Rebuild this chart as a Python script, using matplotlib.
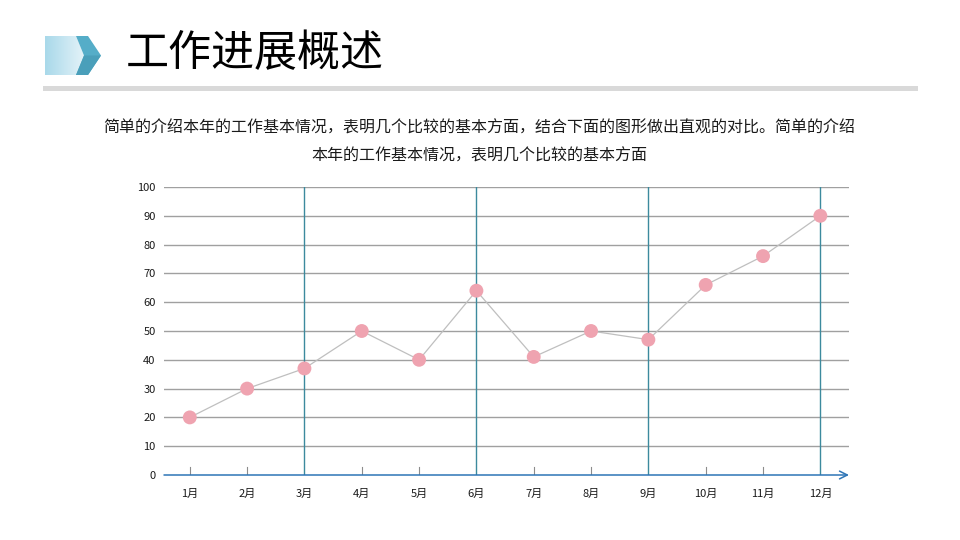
import matplotlib
matplotlib.use("Agg")
import matplotlib.pyplot as plt
import numpy as np
from matplotlib.patches import Polygon
from matplotlib.colors import LinearSegmentedColormap

plt.rcParams["font.family"] = ["Noto Sans CJK SC", "DejaVu Sans"]

months = ["1月", "2月", "3月", "4月", "5月", "6月", "7月", "8月", "9月", "10月", "11月", "12月"]
values = [20, 30, 37, 50, 40, 64, 41, 50, 47, 66, 76, 90]
y_ticks = [0, 10, 20, 30, 40, 50, 60, 70, 80, 90, 100]
quarter_marks = [3, 6, 9, 12]

title = "工作进展概述"
subtitle_1 = "简单的介绍本年的工作基本情况，表明几个比较的基本方面，结合下面的图形做出直观的对比。简单的介绍"
subtitle_2 = "本年的工作基本情况，表明几个比较的基本方面"

W, H = 960, 540
fig = plt.figure(figsize=(9.6, 5.4), dpi=100)
fig.patch.set_facecolor("white")


def fx(px):
    return px / W


def fy(py):
    return 1 - py / H


# header icon: gradient block + chevron
bg = fig.add_axes([0, 0, 1, 1], zorder=0)
bg.set_xlim(0, W)
bg.set_ylim(H, 0)
bg.axis("off")
grad = np.linspace(0, 1, 64).reshape(1, -1)
cmap = LinearSegmentedColormap.from_list("icon", ["#A9D9EA", "#E3F2F8"])
im = bg.imshow(grad, cmap=cmap, extent=[45, 84, 75, 36], aspect="auto", zorder=1)
clip = Polygon([(45, 36), (76, 36), (84, 55.5), (76, 75), (45, 75)], closed=True,
               transform=bg.transData, facecolor="none", edgecolor="none")
bg.add_patch(clip)
im.set_clip_path(clip)
bg.add_patch(Polygon([(76, 36), (88, 36), (101, 55.5), (88, 75), (76, 75), (84, 55.5)],
                     closed=True, facecolor="#55ADC8", edgecolor="none", zorder=2))
bg.add_patch(Polygon([(84, 55.5), (101, 55.5), (88, 75), (76, 75)],
                     closed=True, facecolor="#4A9FBA", edgecolor="none", zorder=2))
# gray divider bar
bg.add_patch(plt.Rectangle((43, 86), 875, 5, facecolor="#D9D9D9", edgecolor="none"))

fig.text(fx(126), fy(54), title, fontsize=31, color="black", va="center", ha="left")
fig.text(fx(479), fy(128), subtitle_1, fontsize=11.5, color="#1a1a1a", va="center", ha="center")
fig.text(fx(479), fy(156), subtitle_2, fontsize=11.5, color="#1a1a1a", va="center", ha="center")

# chart
left, right, top, bottom = 164, 849, 187, 475
ax = fig.add_axes([fx(left), fy(bottom), fx(right - left), fy(top) - fy(bottom)], zorder=1)
ax.patch.set_alpha(0)
x = np.arange(1, len(months) + 1)
ax.set_xlim(0.55, 12.5)
ax.set_ylim(0, 100)

for yv in y_ticks[1:]:
    ax.axhline(yv, color="#A0A0A0", lw=1.0, zorder=1)
for q in quarter_marks:
    ax.plot([q, q], [0, 100], color="#3C8A9E", lw=1.0, zorder=2)

ax.plot(x, values, color="#BFBFBF", lw=0.9, zorder=3)
ax.scatter(x, values, s=100, color="#EFA3B0", edgecolors="none", zorder=4)

# small upward tick marks on the axis
for xi in x:
    if xi not in quarter_marks:
        ax.plot([xi, xi], [0, 2.8], color="#8C8C8C", lw=0.8, zorder=2)

# x axis line with arrow
ax.annotate("", xy=(12.5, 0), xytext=(0.55, 0),
            arrowprops=dict(arrowstyle="->", color="#2E75B6", lw=1.1,
                            mutation_scale=14, shrinkA=0, shrinkB=0),
            annotation_clip=False, zorder=5)

for s in ax.spines.values():
    s.set_visible(False)
ax.set_yticks(y_ticks)
ax.set_yticklabels([str(v) for v in y_ticks], fontsize=8, color="#1a1a1a")
ax.set_xticks(x)
ax.set_xticklabels(months, fontsize=8, color="#1a1a1a")
ax.tick_params(axis="both", length=0)
ax.tick_params(axis="y", pad=6)
ax.tick_params(axis="x", pad=10)

fig.savefig("out.png", dpi=100, facecolor="white")
